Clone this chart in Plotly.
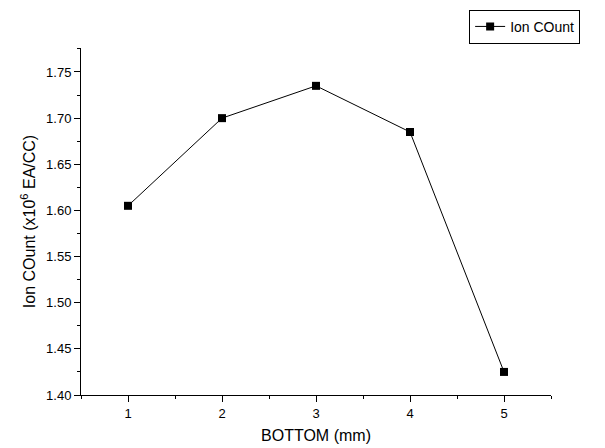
import plotly.graph_objects as go

x_vals = [1, 2, 3, 4, 5]
y_vals = [1.605, 1.700, 1.735, 1.685, 1.425]
series_name = "Ion COunt"
y_ticks = [1.40, 1.45, 1.50, 1.55, 1.60, 1.65, 1.70, 1.75]
x_ticks = [1, 2, 3, 4, 5]

fig = go.Figure()
fig.add_trace(go.Scatter(
    x=x_vals, y=y_vals, name=series_name, mode="lines+markers",
    line=dict(color="black", width=1),
    marker=dict(symbol="square", size=8, color="black"),
))

font_family = "Liberation Sans, Arial, sans-serif"
fig.update_layout(
    width=605, height=448,
    margin=dict(l=81, r=54, t=48, b=53, autoexpand=False),
    plot_bgcolor="white", paper_bgcolor="white",
    font=dict(family=font_family, color="black", size=13),
    showlegend=True,
    legend=dict(
        x=1.062, y=1.11, xanchor="right", yanchor="top",
        bordercolor="black", borderwidth=1, bgcolor="white",
        font=dict(size=14), itemwidth=30, tracegroupgap=0,
    ),
    xaxis=dict(
        range=[0.5, 5.5], tickvals=x_ticks, ticks="outside", ticklen=6,
        tickcolor="black", showline=True, linecolor="black", linewidth=1,
        showgrid=False, zeroline=False,
        minor=dict(dtick=0.5, tick0=0.5, ticks="outside", ticklen=3, tickcolor="black"),
        title=dict(text="BOTTOM (mm)", font=dict(size=16), standoff=10),
    ),
    yaxis=dict(
        range=[1.40, 1.776], tickvals=y_ticks, tickformat=".2f", ticks="outside",
        ticklen=6, tickcolor="black", showline=True, linecolor="black", linewidth=1,
        showgrid=False, zeroline=False,
        minor=dict(dtick=0.025, tick0=1.40, ticks="outside", ticklen=3, tickcolor="black"),
        title=dict(text="Ion COunt (x10<sup>6</sup> EA/CC)", font=dict(size=16), standoff=6),
    ),
)

fig.write_html("out.html")
